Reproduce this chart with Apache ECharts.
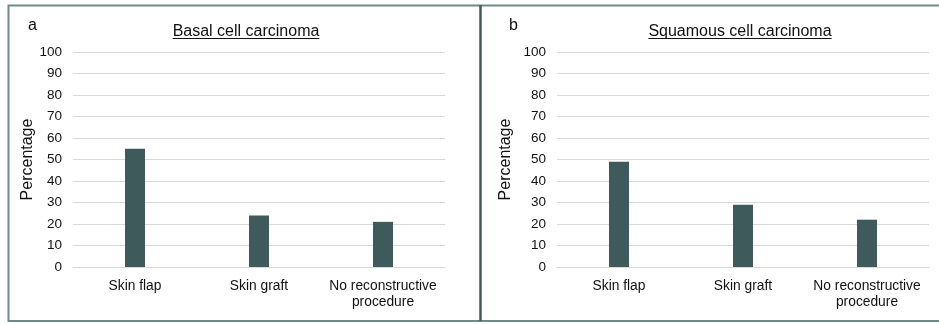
<!DOCTYPE html>
<html>
<head>
<meta charset="utf-8">
<script src="https://cdn.jsdelivr.net/npm/echarts@6/dist/echarts.min.js"></script>
<style>html,body{margin:0;padding:0;background:#fff;}#c{width:939px;height:324px;}</style>
</head>
<body>
<div id="c"></div>
<script>
const categories = ['Skin flap', 'Skin graft', 'No reconstructive procedure'];
const basalValues = [55, 24, 21];
const squamousValues = [49, 29, 22];
const yTicks = [0, 10, 20, 30, 40, 50, 60, 70, 80, 90, 100];
const panelTitles = ['Basal cell carcinoma', 'Squamous cell carcinoma'];
const panelLetters = ['a', 'b'];

const FONT = '"Liberation Sans", Arial, sans-serif';
const barColor = '#3f5a5b';
const chart = echarts.init(document.getElementById('c'), null, {renderer: 'canvas'});

function measure(text, size) {
  const cv = document.createElement('canvas').getContext('2d');
  cv.font = size + 'px ' + FONT;
  return cv.measureText(text).width;
}

const grids = [
  {left: 73, right: 494, top: 52, bottom: 57},
  {left: 557, right: 10, top: 52, bottom: 57}
];

function xAxis(i) {
  return {
    type: 'category', gridIndex: i, data: categories,
    axisTick: {show: false},
    axisLine: {lineStyle: {color: '#d9d9d9', width: 1}},
    axisLabel: {
      color: '#111', fontFamily: FONT, fontSize: 13.8, lineHeight: 16, margin: 11,
      interval: 0,
      formatter: v => v.replace(' procedure', '\nprocedure')
    }
  };
}
function yAxis(i, gap) {
  return {
    type: 'value', gridIndex: i, min: yTicks[0], max: yTicks[yTicks.length - 1], interval: 10,
    name: 'Percentage', nameLocation: 'middle', nameGap: gap,
    nameTextStyle: {color: '#111', fontFamily: FONT, fontSize: 16},
    axisLine: {show: false}, axisTick: {show: false},
    axisLabel: {color: '#111', fontFamily: FONT, fontSize: 13.5, margin: 11},
    splitLine: {lineStyle: {color: '#d9d9d9', width: 1}}
  };
}

const titleCenters = [246, 740];
const graphics = [];
// frame
graphics.push({type: 'polyline', shape: {points: [[939, 5.5], [8.5, 5.5], [8.5, 321], [939, 321]]},
  style: {stroke: '#6e8b89', lineWidth: 2, fill: null}, silent: true});
graphics.push({type: 'line', shape: {x1: 480.5, y1: 5, x2: 480.5, y2: 321},
  style: {stroke: '#3f5a5b', lineWidth: 2.5}, silent: true});
panelTitles.forEach((t, i) => {
  const w = measure(t, 16);
  const cx = titleCenters[i];
  graphics.push({type: 'text', x: cx, y: 32,
    style: {text: t, fill: '#111', font: '16px ' + FONT, textAlign: 'center', textVerticalAlign: 'middle'}, silent: true});
  graphics.push({type: 'line', shape: {x1: cx - w / 2, y1: 38.5, x2: cx + w / 2, y2: 38.5},
    style: {stroke: '#111', lineWidth: 1}, silent: true});
});
const letterX = [28, 509];
panelLetters.forEach((l, i) => {
  graphics.push({type: 'text', x: letterX[i], y: 26,
    style: {text: l, fill: '#111', font: '16px ' + FONT, textAlign: 'left', textVerticalAlign: 'middle'}, silent: true});
});

chart.setOption({
  animation: false,
  backgroundColor: '#fff',
  grid: grids,
  xAxis: [xAxis(0), xAxis(1)],
  yAxis: [yAxis(0, 36), yAxis(1, 43)],
  series: [
    {type: 'bar', xAxisIndex: 0, yAxisIndex: 0, data: basalValues, barWidth: 20,
      itemStyle: {color: barColor}},
    {type: 'bar', xAxisIndex: 1, yAxisIndex: 1, data: squamousValues, barWidth: 20,
      itemStyle: {color: barColor}}
  ],
  graphic: graphics
});
</script>
</body>
</html>
